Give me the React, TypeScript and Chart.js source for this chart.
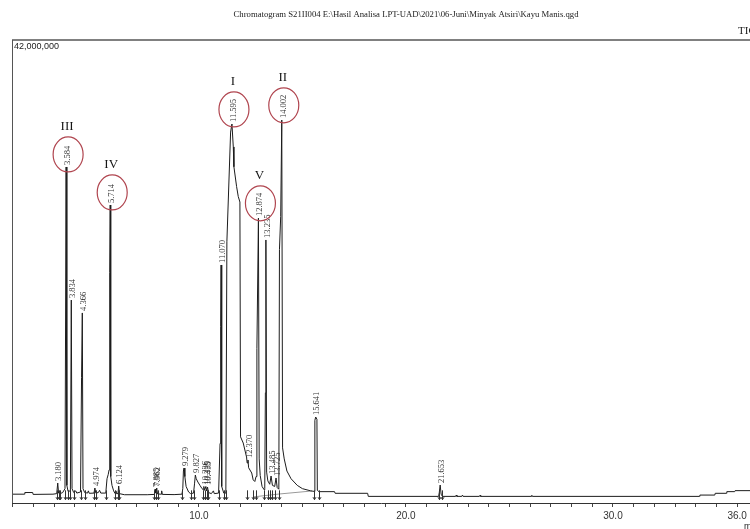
import React, { useEffect, useRef } from 'react';
import { Chart, registerables } from 'chart.js';

Chart.register(...registerables);

const titleText =
  'Chromatogram S21II004 E:\\Hasil Analisa LPT-UAD\\2021\\06-Juni\\Minyak Atsiri\\Kayu Manis.qgd';
const channelLabel = 'TIC';
const axisUnit = 'min';
const timeMin = 0.97;
const timeMax = 36.62;
const intensityMax = 42000000;
const tickLabelValues = [10, 20, 30, 36];

// Trace: retention time (min) and signal (millions of counts)
const traceTime = [
  0.97, 1.57, 1.59, 1.97, 1.99, 2.95, 3.13, 3.18, 3.22, 3.3, 3.42, 3.53, 3.584, 3.62, 3.68,
  3.79, 3.834, 3.87, 3.95, 4.05, 4.1, 4.28, 4.33, 4.366, 4.4, 4.48, 4.62, 4.66, 4.7, 4.93,
  4.974, 5.02, 5.14, 5.2, 5.26, 5.5, 5.56, 5.62, 5.66, 5.69, 5.714, 5.74, 5.8, 5.88, 5.95,
  5.99, 6.02, 6.09, 6.124, 6.16, 6.4, 7.5, 7.85, 7.885, 7.92, 7.962, 8.0, 8.17, 8.2, 8.23,
  8.8, 9.18, 9.22, 9.25, 9.279, 9.32, 9.38, 9.5, 9.6, 9.74, 9.79, 9.827, 9.87, 9.95, 10.05,
  10.15, 10.21, 10.236, 10.27, 10.335, 10.37, 10.415, 10.46, 10.6, 10.7, 10.74, 10.95, 11.02,
  11.05, 11.07, 11.1, 11.2, 11.3, 11.35, 11.53, 11.595, 11.66, 11.69, 11.82, 11.9, 11.98,
  12.01, 12.14, 12.3, 12.33, 12.37, 12.4, 12.55, 12.62, 12.7, 12.76, 12.8, 12.874, 12.91,
  12.96, 13.05, 13.15, 13.18, 13.21, 13.235, 13.27, 13.33, 13.42, 13.485, 13.55, 13.66,
  13.725, 13.78, 13.86, 13.89, 13.95, 14.002, 14.04, 14.12, 14.25, 14.45, 14.75, 15.0, 15.4,
  15.58, 15.6, 15.641, 15.7, 15.72, 15.8, 16.55, 16.58, 18.15, 18.18, 21.58, 21.61, 21.653,
  21.7, 21.76, 22.4, 22.43, 22.46, 22.7, 22.73, 22.76, 23.55, 23.58, 23.61, 26.05, 26.08,
  26.11, 34.18, 34.2, 34.92, 34.94, 35.48, 35.5, 35.88, 35.9, 36.62,
];
const traceSignal = [
  0.8, 0.8, 0.95, 0.95, 0.78, 0.8, 0.85, 1.81, 0.9, 0.85, 0.95, 1.3, 30.48, 1.6, 1.05,
  1.1, 18.41, 1.3, 0.95, 1.1, 0.9, 1.0, 11.4, 17.24, 1.3, 0.95, 0.9, 1.1, 0.88, 0.9,
  1.36, 0.9, 0.95, 1.15, 0.9, 0.9, 2.2, 2.6, 3.0, 20.9, 27.03, 2.4, 1.6, 1.1, 0.85,
  1.1, 0.85, 0.85, 1.54, 0.85, 0.75, 0.75, 0.78, 1.27, 0.9, 1.36, 0.82, 0.8, 1.1, 0.78,
  0.76, 0.8, 1.3, 2.9, 3.17, 2.4, 1.5, 1.0, 0.85, 0.9, 1.8, 2.54, 2.2, 1.9, 1.6,
  1.3, 1.2, 1.5, 1.15, 1.5, 1.1, 1.45, 0.95, 0.85, 1.1, 0.85, 0.9, 5.4,
  16.0, 21.59, 1.5, 0.9, 0.9, 23.7, 33.65, 34.38, 32.3, 30.5, 28.7, 27.8, 27.3,
  6.0, 5.44, 4.17, 3.63, 3.9, 3.2, 2.72, 2.1, 1.95, 2.4, 14.0, 25.85, 4.0,
  2.5, 1.5, 1.2, 1.3, 10.0, 23.86, 2.8, 2.0, 1.7, 2.45, 1.6, 1.5,
  2.27, 1.4, 1.25, 23.0, 26.0, 34.74, 5.0, 4.0, 2.9, 2.2, 1.6, 1.3, 1.1,
  1.05, 7.5, 7.8, 7.6, 1.15, 1.03, 1.03, 0.88, 0.88, 0.6, 0.6, 0.95, 1.63,
  0.8, 0.6, 0.6, 0.72, 0.6, 0.6, 0.72, 0.6, 0.6, 0.7, 0.6, 0.6, 0.7,
  0.6, 0.6, 0.72, 0.72, 0.88, 0.88, 1.03, 1.03, 1.12, 1.12,
];

// Integration baseline (grey)
const baselineTime = [12.61, 13.9, 15.46];
const baselineSignal = [0.55, 0.82, 1.09];

// Labelled peaks
const peakTimes = [
  3.18, 3.584, 3.834, 4.366, 4.974, 5.714, 6.124, 7.885, 7.962, 9.279, 9.827, 10.236, 10.335,
  10.415, 11.07, 11.595, 12.37, 12.874, 13.235, 13.485, 13.725, 14.002, 15.641, 21.653,
];
const peakHeights = [
  1.81, 30.48, 18.41, 17.24, 1.36, 27.03, 1.54, 1.27, 1.36, 3.17, 2.54, 1.5, 1.5,
  1.45, 21.59, 34.38, 3.9, 25.85, 23.86, 2.45, 2.27, 34.74, 7.8, 1.63,
];
const peakLabels = [
  '3.180', '3.584', '3.834', '4.366', '4.974', '5.714', '6.124', '7.885', '7.962', '9.279',
  '9.827', '10.236', '10.335', '10.415', '11.070', '11.595', '12.370', '12.874', '13.235',
  '13.485', '13.725', '14.002', '15.641', '21.653',
];
const circledPeaks = ['11.595', '14.002', '3.584', '5.714', '12.874'];
const circledNumerals = ['I', 'II', 'III', 'IV', 'V'];

// Integration start/end markers
const markerTimes = [
  3.13, 3.22, 3.3, 3.53, 3.68, 3.79, 3.95, 4.28, 4.48, 4.93, 5.02, 5.5, 5.95, 6.09, 6.16,
  7.85, 7.92, 8.0, 9.18, 9.6, 9.74, 10.21, 10.27, 10.37, 10.46, 10.95, 11.2, 11.3, 12.33,
  12.62, 12.76, 13.15, 13.33, 13.42, 13.55, 13.66, 13.86, 15.58, 15.8, 21.58, 21.76,
];

const annotationPlugin = {
  id: 'chromAnnotations',
  afterDatasetsDraw(chart: any) {
    const { ctx, chartArea, scales } = chart;
    const xs = scales.x;
    const ys = scales.y;
    ctx.save();

    // frame
    ctx.strokeStyle = '#808080';
    ctx.lineWidth = 2;
    ctx.beginPath();
    ctx.moveTo(chartArea.left, chartArea.top);
    ctx.lineTo(chart.width, chartArea.top);
    ctx.stroke();
    ctx.strokeStyle = '#555';
    ctx.lineWidth = 1;
    ctx.beginPath();
    ctx.moveTo(chartArea.left + 0.5, chartArea.top);
    ctx.lineTo(chartArea.left + 0.5, chartArea.bottom);
    ctx.stroke();

    // integration markers
    ctx.strokeStyle = '#333';
    ctx.lineWidth = 1;
    markerTimes.forEach((t) => {
      const px = Math.round(xs.getPixelForValue(t)) + 0.5;
      const y1 = ys.getPixelForValue(1.15e6);
      const y2 = ys.getPixelForValue(0.3e6);
      ctx.beginPath();
      ctx.moveTo(px, y1);
      ctx.lineTo(px, y2);
      ctx.moveTo(px - 1.5, y2 - 2.5);
      ctx.lineTo(px, y2);
      ctx.lineTo(px + 1.5, y2 - 2.5);
      ctx.stroke();
    });

    // peak labels
    ctx.font = '8.5px "Liberation Serif", "DejaVu Serif", serif';
    ctx.fillStyle = '#333';
    const labelInfo: Record<string, { px: number; py: number; w: number }> = {};
    peakTimes.forEach((t, i) => {
      const px = xs.getPixelForValue(t);
      const py = ys.getPixelForValue(peakHeights[i] * 1e6);
      const w = ctx.measureText(peakLabels[i]).width;
      labelInfo[peakLabels[i]] = { px, py, w };
      ctx.save();
      ctx.translate(px + 1.5, py - 2);
      ctx.rotate(-Math.PI / 2);
      ctx.textAlign = 'left';
      ctx.textBaseline = 'middle';
      ctx.fillText(peakLabels[i], 0, 0);
      ctx.restore();
    });

    // circled peaks with roman numerals
    circledPeaks.forEach((lab, i) => {
      const info = labelInfo[lab];
      if (!info) return;
      const cx = info.px + 2;
      const cy = info.py - 3 - info.w / 2;
      const rx = 15;
      const ry = 17.5;
      ctx.strokeStyle = '#b0454f';
      ctx.lineWidth = 1.2;
      ctx.beginPath();
      ctx.ellipse(cx, cy, rx, ry, 0, 0, Math.PI * 2);
      ctx.stroke();
      ctx.fillStyle = '#151515';
      ctx.font = '13px "Liberation Serif", "DejaVu Serif", serif';
      ctx.textAlign = 'center';
      ctx.textBaseline = 'middle';
      ctx.fillText(circledNumerals[i], cx - 1, cy - ry - 10);
    });

    ctx.restore();
  },
  afterDraw(chart: any) {
    const { ctx, chartArea } = chart;
    ctx.save();
    ctx.fillStyle = '#222';
    ctx.font = '8.7px "Liberation Serif", "DejaVu Serif", serif';
    ctx.textAlign = 'center';
    ctx.textBaseline = 'middle';
    ctx.fillText(titleText, 406, 15);

    ctx.font = '11px "Liberation Serif", "DejaVu Serif", serif';
    ctx.textAlign = 'left';
    ctx.fillText(channelLabel, 738, 31);

    ctx.font = '9px "Liberation Sans", Arial, sans-serif';
    ctx.textBaseline = 'top';
    ctx.fillText(intensityMax.toLocaleString('en-US'), chartArea.left + 2, chartArea.top + 2);

    ctx.font = '9px "Liberation Sans", Arial, sans-serif';
    ctx.fillText(axisUnit, 744, 522);
    ctx.restore();
  },
};

export default function App() {
  const canvasRef = useRef<HTMLCanvasElement | null>(null);

  useEffect(() => {
    document.body.style.margin = '0';
    const canvas = canvasRef.current;
    if (!canvas) return;
    const chart = new Chart(canvas, {
      type: 'line',
      data: {
        datasets: [
          {
            data: traceTime.map((t, i) => ({ x: t, y: traceSignal[i] * 1e6 })),
            borderColor: '#1c1c1c',
            borderWidth: 1,
            pointRadius: 0,
            tension: 0,
            fill: false,
            order: 1,
          },
          {
            data: baselineTime.map((t, i) => ({ x: t, y: baselineSignal[i] * 1e6 })),
            borderColor: '#9a9a9a',
            borderWidth: 1,
            pointRadius: 0,
            tension: 0,
            fill: false,
            order: 2,
          },
        ],
      },
      options: {
        animation: false,
        responsive: false,
        devicePixelRatio: 1,
        layout: { padding: { left: 12, right: 0, top: 40, bottom: 4 } },
        plugins: {
          legend: { display: false },
          tooltip: { enabled: false },
          title: { display: false },
        },
        scales: {
          x: {
            type: 'linear',
            position: 'bottom',
            min: timeMin,
            max: timeMax,
            grid: {
              display: true,
              drawOnChartArea: false,
              drawTicks: true,
              tickLength: 4,
              color: '#444',
              lineWidth: 1,
            },
            border: { display: true, color: '#333', width: 1 },
            ticks: {
              stepSize: 1,
              includeBounds: false,
              autoSkip: false,
              maxRotation: 0,
              padding: 3,
              color: '#333',
              font: { family: '"Liberation Sans", Arial, sans-serif', size: 10 },
              callback: (v: any) =>
                tickLabelValues.includes(Number(v)) ? Number(v).toFixed(1) : '',
            },
          },
          y: { type: 'linear', display: false, min: 0, max: intensityMax },
        },
      },
      plugins: [annotationPlugin],
    });
    return () => chart.destroy();
  }, []);

  return (
    <div style={{ position: 'fixed', left: 0, top: 0, width: 750, height: 529, background: '#fff' }}>
      <canvas ref={canvasRef} width={750} height={529} style={{ display: 'block' }} />
    </div>
  );
}
